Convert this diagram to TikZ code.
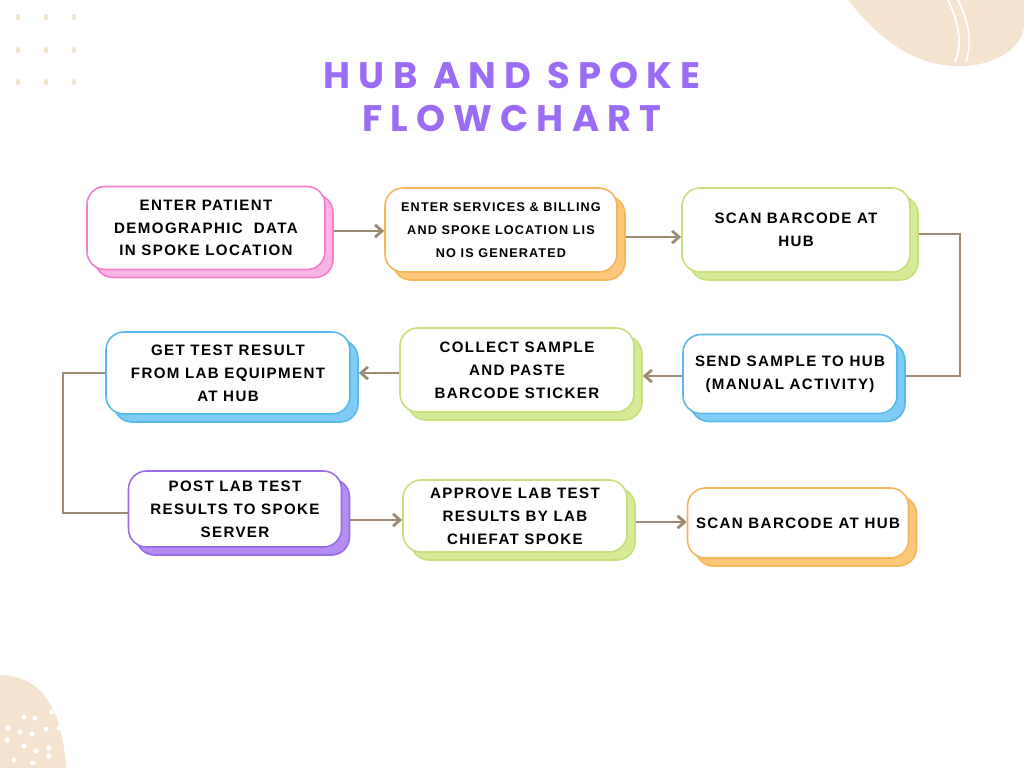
\documentclass[tikz,border=0pt]{standalone}
\usepackage{fontspec}
\setmainfont{Liberation Sans}
\newfontfamily\titlefont[LetterSpace=22]{Poppins Bold}
\newfontfamily\boxfont[LetterSpace=9]{Liberation Sans Bold}
\usetikzlibrary{shadows}
\definecolor{beige}{HTML}{F3E3CF}
\definecolor{arrowc}{HTML}{9C8A74}
\definecolor{titlec}{HTML}{9B6CF5}
\definecolor{pinkd}{HTML}{F27FCE}\definecolor{pinkl}{HTML}{FBB3E6}
\definecolor{orad}{HTML}{F5B55A}\definecolor{oral}{HTML}{FDC77A}
\definecolor{grnd}{HTML}{C5E07A}\definecolor{grnl}{HTML}{D7EA97}
\definecolor{blud}{HTML}{5AB8EC}\definecolor{blul}{HTML}{7FCDF6}
\definecolor{purd}{HTML}{9A6DE8}\definecolor{purl}{HTML}{B48CF2}
\tikzset{
  flowbox/.style={draw=#1d,fill=white,line width=0.9pt,rounded corners=0.36cm,
    align=center,inner sep=1pt,font=\boxfont\fontsize{8.6}{13}\selectfont,
    copy shadow={shadow xshift=0.16cm,shadow yshift=-0.16cm,fill=#1l,draw=#1d}},
  link/.style={draw=arrowc,line width=1.6pt},
  arr/.style={link,-{Straight Barb[length=4pt,width=7pt]}}
}
\usetikzlibrary{arrows.meta}
\begin{document}
\begin{tikzpicture}[x=0.02cm,y=-0.02cm]
\useasboundingbox (0,0) rectangle (1024,768);
% decorations
\foreach \x in {9,23,37} \foreach \y in {17,50,82}
  \fill[beige] (\x*2,\y) ellipse (2.2 and 3.2);
\fill[beige] (848,0) .. controls (880,40) and (915,68) .. (965,66)
  .. controls (1000,64) and (1024,45) .. (1024,25) -- (1024,0) -- cycle;
\draw[white,line width=1pt] (948,0) .. controls (960,25) and (962,45) .. (955,62);
\draw[white,line width=1pt] (958,0) .. controls (970,25) and (972,45) .. (966,62);
\fill[beige] (0,675) .. controls (40,676) and (62,705) .. (66,768) -- (0,768) -- cycle;
\foreach \x/\y in {24/717,35/718,52/712,8/728,20/732,32/734,46/729,59/728,7/740,24/746,36/751,49/748,14/760,33/763,49/756}
  \fill[white] (\x,\y) circle (2.6);
% title
\node[text=titlec,font=\titlefont\fontsize{21}{25}\selectfont,align=center] (title) at (512,97) {HUB AND SPOKE\\FLOWCHART};
% boxes
\foreach \x/\y/\w/\h/\n/\c/\t in {
  206/228/238/83/enter/pink/{ENTER PATIENT\\DEMOGRAPHIC\ \ DATA\\IN SPOKE LOCATION},
  501/230/232/84/bill/ora/{\fontsize{7.2}{10.5}\selectfont ENTER SERVICES \& BILLING\\\fontsize{7.2}{10.5}\selectfont AND SPOKE LOCATION LIS\\\fontsize{7.2}{10.5}\selectfont NO IS GENERATED},
  796/230/228/84/scan/grn/{SCAN BARCODE AT\\HUB},
  790/374/214/79/send/blu/{SEND SAMPLE TO HUB\\(MANUAL ACTIVITY)},
  517/370/234/84/collect/grn/{COLLECT SAMPLE\\AND PASTE\\BARCODE STICKER},
  228/373/244/82/result/blu/{GET TEST RESULT\\FROM LAB EQUIPMENT\\AT HUB},
  235/509/213/76/post/pur/{POST LAB TEST\\RESULTS TO SPOKE\\SERVER},
  515/516/224/72/approve/grn/{APPROVE LAB TEST\\RESULTS BY LAB\\CHIEFAT SPOKE},
  798/523/221/70/scanb/ora/{SCAN BARCODE AT HUB}}
  \node[flowbox=\c,minimum width=\w*0.02cm,minimum height=\h*0.02cm] (\n) at (\x,\y) {\t};
% connectors
\draw[arr] (enter.east |- 0,231) ++(8,0) -- (bill.west |- 0,231);
\draw[arr] (bill.east |- 0,237) ++(8,0) -- (scan.west |- 0,237);
\draw[link] (scan.east |- 0,234) ++(8,0) -- (960,234) -- (960,376) -- ([xshift=0.16cm]send.east |- 0,376);
\draw[arr] (send.west |- 0,376) -- ([xshift=0.16cm]collect.east |- 0,376);
\draw[arr] (collect.west |- 0,373) -- ([xshift=0.16cm]result.east |- 0,373);
\draw[link] (result.west |- 0,373) -- (63,373) -- (63,513) -- (post.west |- 0,513);
\draw[arr] (post.east |- 0,520) ++(8,0) -- (approve.west |- 0,520);
\draw[arr] (approve.east |- 0,522) ++(8,0) -- (scanb.west |- 0,522);
\end{tikzpicture}
\end{document}
